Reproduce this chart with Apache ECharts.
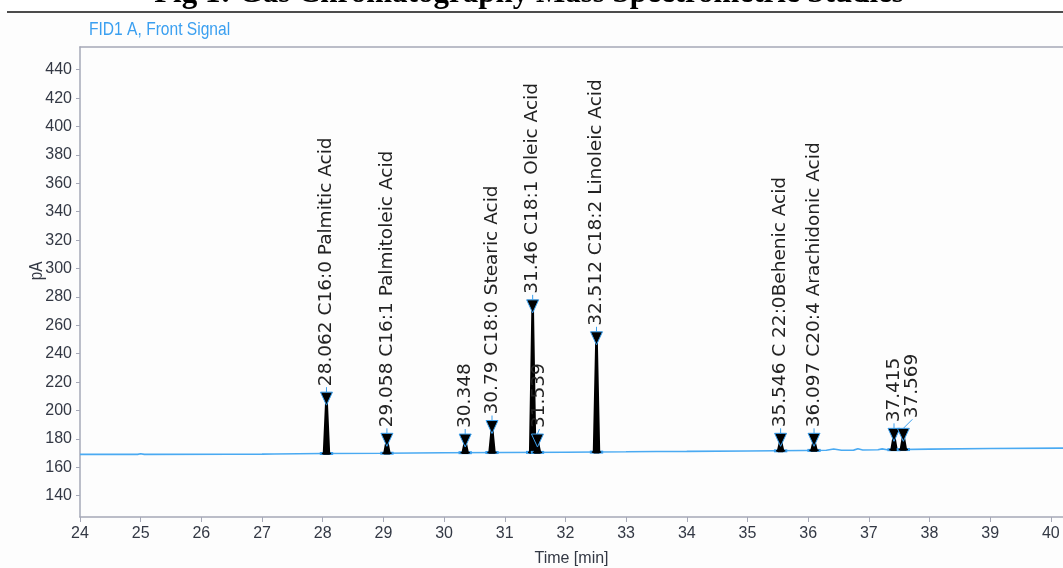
<!DOCTYPE html>
<html>
<head>
<meta charset="utf-8">
<script src="https://cdn.jsdelivr.net/npm/echarts@6/dist/echarts.min.js"></script>
<style>
html,body{margin:0;padding:0;background:#ffffff;}
#chart{width:1063px;height:568px;}
</style>
</head>
<body>
<div id="chart"></div>
<script>
// ---------- data ----------
const chartTitle = 'Fig 1: Gas Chromatography Mass Spectrometric Studies';
const signalName = 'FID1 A, Front Signal';
const xAxisName = 'Time [min]';
const yAxisName = 'pA';
const xTickValues = [24, 25, 26, 27, 28, 29, 30, 31, 32, 33, 34, 35, 36, 37, 38, 39, 40];
const yTickValues = [140, 160, 180, 200, 220, 240, 260, 280, 300, 320, 340, 360, 380, 400, 420, 440];

// baseline (signal between peaks), minutes / pA
const baselineTimes  = [24.0, 24.95, 25.0, 25.06, 26.5, 27.0, 27.2, 28.0, 29.0, 29.5, 30.0, 31.0, 32.0, 33.0, 33.5, 34.0, 35.0, 35.9, 36.3, 36.42, 36.55, 36.75, 36.82, 36.9, 37.15, 37.22, 37.3, 38.0, 39.0, 40.2];
const baselineValues = [169.1, 169.1, 169.6, 169.1, 169.2, 169.3, 169.4, 169.7, 169.9, 170.1, 170.2, 170.4, 170.6, 170.9, 171.1, 171.2, 171.5, 171.8, 172.0, 172.9, 172.0, 172.1, 173.0, 172.2, 172.4, 173.0, 172.4, 172.8, 173.2, 173.5];

// integrated peaks
const peakTimes  = [28.062, 29.058, 30.348, 30.79, 31.46, 31.539, 32.512, 35.546, 36.097, 37.415, 37.569];
const peakApex   = [208, 179, 178.5, 188, 273, 178.5, 250.5, 179, 179, 182.5, 182.5];
const peakBase   = [169.7, 169.9, 170.3, 170.4, 170.5, 170.5, 170.7, 171.6, 171.9, 172.4, 172.5];
const peakLabels = [
  '28.062 C16:0 Palmitic Acid',
  '29.058 C16:1 Palmitoleic Acid',
  '30.348',
  '30.79 C18:0 Stearic Acid',
  '31.46 C18:1 Oleic Acid',
  '31.539',
  '32.512 C18:2 Linoleic Acid',
  '35.546 C 22:0Behenic Acid',
  '36.097 C20:4 Arachidonic Acid',
  '37.415',
  '37.569'
];

// ---------- styles ----------
const AXIS_COLOR = '#a5a8b7';
const AXIS_TEXT = '#333844';
const SIGNAL_BLUE = '#4aaaf2';
const MARK_BLUE = '#3a9fee';
const SANS = '"Liberation Sans", Arial, sans-serif';
const LABEL_FONT = '18.5px "DejaVu Sans", sans-serif';
const PEAK_HALF_WIDTH = 0.04;  // minutes
const FOOT_HALF_WIDTH = 0.11;  // minutes
const LABEL_NUDGE = {5: [2, 0], 10: [9, -4]}; // px shift of label start

const chart = echarts.init(document.getElementById('chart'), null, {renderer: 'canvas'});

function renderPeak(params, api) {
  const i = api.value(3);
  const t = api.value(0), apex = api.value(1), base = api.value(2);
  const top = api.coord([t, apex]);
  const l = api.coord([t - PEAK_HALF_WIDTH, base]);
  const r = api.coord([t + PEAK_HALF_WIDTH, base]);
  const bl = api.coord([t - FOOT_HALF_WIDTH, base]);
  const br = api.coord([t + FOOT_HALF_WIDTH, base]);
  const nudge = LABEL_NUDGE[i] || [0, 0];
  const x = top[0], y = top[1];
  const triTop = y - 7;
  const lx = x + nudge[0], ly = triTop - 5 + nudge[1];
  return {
    type: 'group',
    children: [
      {type: 'line', shape: {x1: bl[0], y1: bl[1], x2: br[0], y2: br[1]}, style: {stroke: MARK_BLUE, lineWidth: 3}},
      {type: 'line', shape: {x1: bl[0] + 2, y1: bl[1], x2: br[0] - 2, y2: br[1]}, style: {stroke: '#000', lineWidth: 1.5}},
      {type: 'polygon', shape: {points: [l, top, r]}, style: {stroke: '#000', lineWidth: 2.6, fill: '#000', lineJoin: 'round'}},
      {type: 'polygon', shape: {points: [[x - 6, triTop], [x + 6, triTop], [x, y + 6]]}, style: {fill: '#000', stroke: MARK_BLUE, lineWidth: 1}},
      {type: 'line', shape: {x1: x, y1: triTop, x2: lx, y2: ly}, style: {stroke: MARK_BLUE, lineWidth: 1}},
      {type: 'text', x: lx, y: ly - 1, rotation: Math.PI / 2,
        style: {text: peakLabels[i], fill: '#222222', font: LABEL_FONT, align: 'left', verticalAlign: 'middle'}}
    ]
  };
}

const option = {
  animation: false,
  backgroundColor: '#fdfdfd',
  grid: {left: 80, top: 47, right: 0, bottom: 51, containLabel: false, outerBoundsMode: 'none'},
  graphic: [
    {type: 'rect', left: 0, top: 0, shape: {width: 1063, height: 12}, style: {fill: '#ffffff'}, z: -1},
    {type: 'text', x: 529, y: -6, style: {text: chartTitle, font: 'bold 31px "Liberation Serif", "Times New Roman", serif', fill: '#000', align: 'center', verticalAlign: 'middle'}},
    {type: 'line', shape: {x1: 7, y1: 12, x2: 1063, y2: 12}, style: {stroke: '#111', lineWidth: 1.7}},
    {type: 'text', x: 89, y: 30, scaleX: 0.82, style: {text: signalName, font: '19px ' + SANS, fill: '#3a9ff0', align: 'left', verticalAlign: 'middle'}},
    {type: 'text', x: 37, y: 271, rotation: Math.PI / 2, scaleX: 0.85, style: {text: yAxisName, font: '18px ' + SANS, fill: AXIS_TEXT, align: 'center', verticalAlign: 'middle'}}
  ],
  xAxis: [
    {
      type: 'value', min: 24, max: 40.2,
      name: xAxisName, nameLocation: 'middle', nameGap: 34,
      nameTextStyle: {fontFamily: SANS, fontSize: 16, color: AXIS_TEXT},
      axisLine: {show: true, lineStyle: {color: AXIS_COLOR, width: 1.5}},
      axisTick: {show: true, customValues: xTickValues, length: 5, lineStyle: {color: AXIS_COLOR}},
      axisLabel: {customValues: xTickValues, margin: 9, fontFamily: SANS, fontSize: 16, color: AXIS_TEXT},
      splitLine: {show: false}
    },
    {
      type: 'value', min: 24, max: 40.2, position: 'top',
      axisLine: {show: true, onZero: false, lineStyle: {color: AXIS_COLOR, width: 1.5}},
      axisTick: {show: false}, axisLabel: {show: false}, splitLine: {show: false}
    }
  ],
  yAxis: {
    type: 'value', min: 125, max: 456,
    axisLine: {show: true, lineStyle: {color: AXIS_COLOR, width: 1.5}},
    axisTick: {show: true, customValues: yTickValues, length: 4, lineStyle: {color: AXIS_COLOR}},
    axisLabel: {customValues: yTickValues, margin: 8, fontFamily: SANS, fontSize: 16, color: AXIS_TEXT},
    splitLine: {show: false}
  },
  series: [
    {
      type: 'line', xAxisIndex: 0, silent: true, showSymbol: false, symbol: 'none',
      data: baselineTimes.map((t, i) => [t, baselineValues[i]]),
      lineStyle: {color: SIGNAL_BLUE, width: 1.6}, z: 2
    },
    {
      type: 'custom', xAxisIndex: 0, silent: true,
      data: peakTimes.map((t, i) => [t, peakApex[i], peakBase[i], i]),
      renderItem: renderPeak, z: 3
    }
  ]
};
chart.setOption(option);
</script>
</body>
</html>
